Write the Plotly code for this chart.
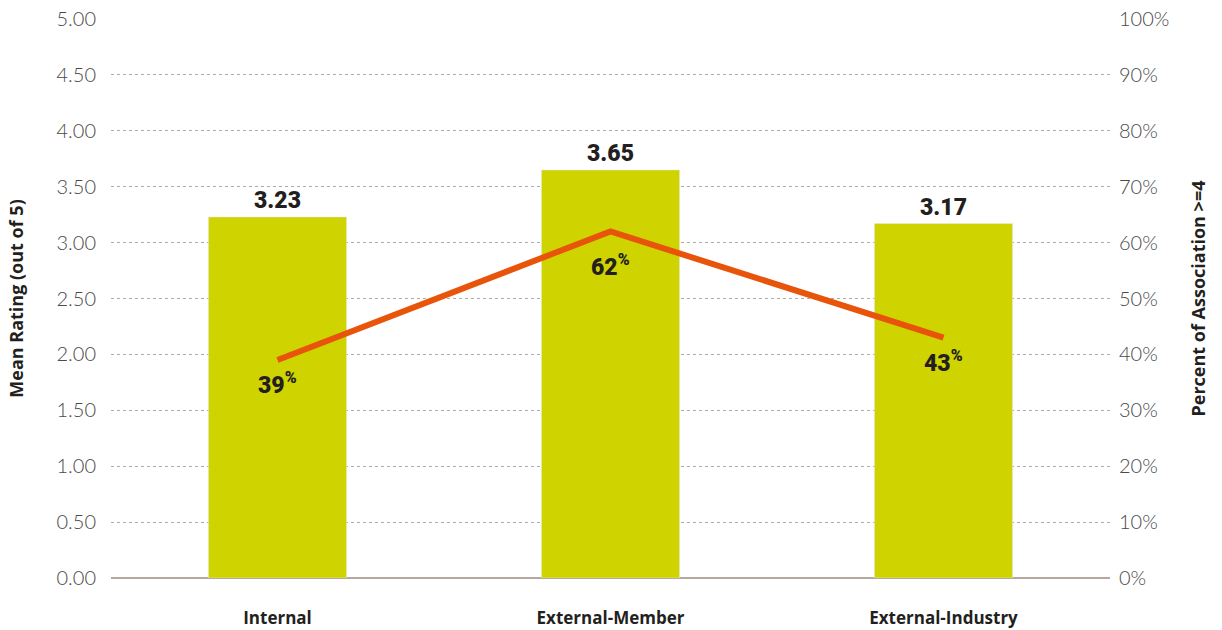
import plotly.graph_objects as go

categories = ["Internal", "External-Member", "External-Industry"]
mean_rating = [3.23, 3.65, 3.17]
pct_association = [39, 62, 43]

left_ticks = [0, 0.5, 1, 1.5, 2, 2.5, 3, 3.5, 4, 4.5, 5]
left_ticklabels = [f"{v:.2f}" for v in left_ticks]
right_ticks = [0, 10, 20, 30, 40, 50, 60, 70, 80, 90, 100]
right_ticklabels = [f"{v}%" for v in right_ticks]

BAR = "#cfd400"
LINE = "#e8540a"
DARK = "#231f20"
GRID = "#b3a9a1"
TICKFONT = dict(family="Lato", size=20, color="#4a4a4a", weight=300)
TITLEFONT = dict(family="Open Sans", size=18, color=DARK, weight=700)

fig = go.Figure()
fig.add_trace(go.Bar(
    x=categories, y=mean_rating, marker_color=BAR, width=0.415,
    text=[f"{v:.2f}" for v in mean_rating], textposition="outside",
    textfont=dict(family="Roboto", size=23, color=DARK, weight=900),
    cliponaxis=False, showlegend=False, hoverinfo="skip",
))
fig.add_trace(go.Scatter(
    x=categories, y=pct_association, yaxis="y2", mode="lines",
    line=dict(color=LINE, width=6), showlegend=False, hoverinfo="skip",
))
shifts = [-24, -34, -24]
for c, p, s in zip(categories, pct_association, shifts):
    fig.add_annotation(
        x=c, y=p, yref="y2", text=f"{p}<sup>%</sup>", showarrow=False,
        yshift=s, font=dict(family="Roboto", size=23, color=DARK, weight=900),
    )

fig.update_layout(
    width=1222, height=630,
    margin=dict(l=111, r=112, t=19, b=52, autoexpand=False),
    plot_bgcolor="white", paper_bgcolor="white",
    bargap=0.585,
    xaxis=dict(
        tickfont=dict(family="Open Sans", size=17, color=DARK, weight=700),
        ticks="", showgrid=False, showline=False, zeroline=False,
        ticklabelstandoff=28, automargin=False,
    ),
    yaxis=dict(
        range=[0, 5], tickvals=left_ticks, ticktext=left_ticklabels,
        tickfont=TICKFONT, showgrid=True, gridcolor=GRID, griddash="dot",
        gridwidth=1, zeroline=True, zerolinecolor=GRID, zerolinewidth=2,
        ticklabelstandoff=14, showline=False, automargin=False,
        title=dict(text="Mean Rating (out of 5)", standoff=28, font=TITLEFONT),
    ),
    yaxis2=dict(
        range=[0, 100], overlaying="y", side="right",
        tickvals=right_ticks, ticktext=right_ticklabels, tickfont=TICKFONT,
        showgrid=False, zeroline=False, showline=False, ticklabelstandoff=8,
        automargin=False,
        title=dict(text="Percent of Association >=4", standoff=24, font=TITLEFONT),
    ),
)
fig.write_html("out.html")
